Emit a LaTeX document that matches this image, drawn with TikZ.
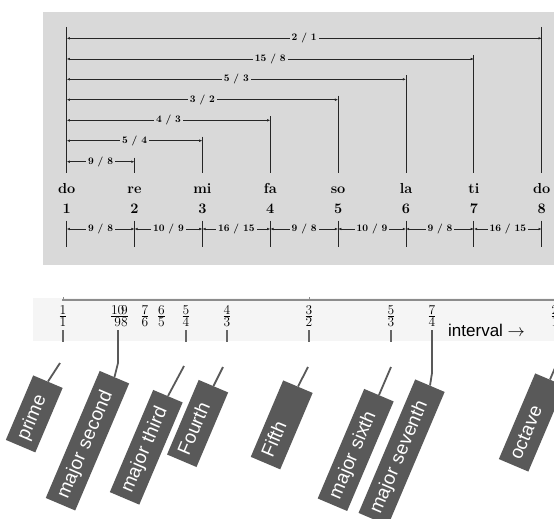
\documentclass[tikz,border=0pt]{standalone}
\usepackage{fontspec}
\newfontfamily\labfont{Liberation Sans}
\usetikzlibrary{arrows.meta}

\begin{document}
\begin{tikzpicture}[x=1pt,y=-1pt,
  panel/.style={fill=black!15,draw=none},
  post/.style={draw=black!85,line width=0.9pt},
  span/.style={draw=black!85,line width=0.6pt,
    {Latex[length=3.2pt,width=2.6pt]}-{Latex[length=3.2pt,width=2.6pt]}},
  spanlab/.style={fill=black!15,inner xsep=2pt,inner ysep=1pt,
    font=\bfseries\fontsize{10}{11}\selectfont},
  note/.style={anchor=base,inner sep=0pt,font=\bfseries\fontsize{14.5}{16}\selectfont},
  ratio/.style={align=center,inner sep=0pt,font=\fontsize{13.5}{11.5}\selectfont},
  tick/.style={draw=black!60,line width=2.6pt},
  stem/.style={draw=black!65,line width=1.8pt},
  tag/.style={rotate=67,anchor=east,fill=black!65,text=white,
    font=\labfont\fontsize{19}{20}\selectfont,
    minimum height=32pt,inner xsep=7pt,inner ysep=0pt,
    text height=13.6pt,text depth=4pt,align=left,text width=#1}
]
\useasboundingbox (0,0) rectangle (554,519);
\clip (0,0) rectangle (554,519);
\fill[white] (0,0) rectangle (554,519);

% ---------- scale of the major scale ----------
\fill[panel] (43,12) rectangle (554,265);

\foreach \n/\x/\nm in {1/66.7/do,2/134.5/re,3/202.4/mi,4/270.3/fa,
                       5/338.1/so,6/406.0/la,7/473.9/ti,8/541.7/do}{
  \node[note] (nm\n) at (\x,193.3) {\nm};
  \node[note] (num\n) at (\x,213.3) {\n};
  \coordinate (lo\n) at (\x,173);
  \coordinate (ta\n) at (\x,220.7);
  \coordinate (tb\n) at (\x,247.3);
  \coordinate (st\n) at (\x,229);
}

% posts above the note names
\coordinate (top1) at (66.7,27);
\coordinate (top2) at (134.5,157.7);
\coordinate (top3) at (202.4,136.7);
\coordinate (top4) at (270.3,116.3);
\coordinate (top5) at (338.1,95.7);
\coordinate (top6) at (406.0,75.3);
\coordinate (top7) at (473.9,55);
\coordinate (top8) at (541.7,27);
\foreach \n in {1,...,8}{\draw[post] (top\n) -- (lo\n);}

% intervals measured from the tonic
\coordinate (o2) at (66.7,161.7);  \coordinate (p2) at (134.5,161.7);
\coordinate (o3) at (66.7,140.7);  \coordinate (p3) at (202.4,140.7);
\coordinate (o4) at (66.7,120.3);  \coordinate (p4) at (270.3,120.3);
\coordinate (o5) at (66.7,99.7);   \coordinate (p5) at (338.1,99.7);
\coordinate (o6) at (66.7,79.3);   \coordinate (p6) at (406.0,79.3);
\coordinate (o7) at (66.7,59);     \coordinate (p7) at (473.9,59);
\coordinate (o8) at (66.7,38.3);   \coordinate (p8) at (541.7,38.3);
\draw[span] (o2) -- node[spanlab] (l2) {9 / 8} (p2);
\draw[span] (o3) -- node[spanlab] (l3) {5 / 4} (p3);
\draw[span] (o4) -- node[spanlab] (l4) {4 / 3} (p4);
\draw[span] (o5) -- node[spanlab] (l5) {3 / 2} (p5);
\draw[span] (o6) -- node[spanlab] (l6) {5 / 3} (p6);
\draw[span] (o7) -- node[spanlab] (l7) {15 / 8} (p7);
\draw[span] (o8) -- node[spanlab] (l8) {2 / 1} (p8);

% steps between neighbouring notes
\foreach \n in {1,...,8}{\draw[post] (ta\n) -- (tb\n);}
\draw[span] (st1) -- node[spanlab] (s1) {9 / 8} (st2);
\draw[span] (st2) -- node[spanlab] (s2) {10 / 9} (st3);
\draw[span] (st3) -- node[spanlab] (s3) {16 / 15} (st4);
\draw[span] (st4) -- node[spanlab] (s4) {9 / 8} (st5);
\draw[span] (st5) -- node[spanlab] (s5) {10 / 9} (st6);
\draw[span] (st6) -- node[spanlab] (s6) {9 / 8} (st7);
\draw[span] (st7) -- node[spanlab] (s7) {16 / 15} (st8);

% ---------- interval axis ----------
\fill[black!4] (33,298) rectangle (554,341);
\coordinate (ax0) at (62,300);
\coordinate (ax1) at (554,300);
\draw[draw=black!45,line width=1.2pt] (ax0) -- (ax1);
\draw[draw=black!45,line width=0.8pt] (63,300) -- (63,296.5);
\draw[draw=black!45,line width=0.8pt] (309,300) -- (309,296.5);

\node[ratio] (r11)  at (63,316)    {\underline{1}\\1};
\node[ratio] (r109) at (117.7,316) {\underline{10}\\9};
\node[ratio] (r98)  at (124.5,316) {\underline{9}\\8};
\node[ratio] (r76)  at (145,316)   {\underline{7}\\6};
\node[ratio] (r65)  at (161.4,316) {\underline{6}\\5};
\node[ratio] (r54)  at (186,316)   {\underline{5}\\4};
\node[ratio] (r43)  at (227,316)   {\underline{4}\\3};
\node[ratio] (r32)  at (309,316)   {\underline{3}\\2};
\node[ratio] (r53)  at (391,316)   {\underline{5}\\3};
\node[ratio] (r74)  at (432,316)   {\underline{7}\\4};
\node[ratio] (r21)  at (555,316)   {\underline{2}\\1};

\node[anchor=west,inner sep=0pt,font=\labfont\fontsize{17}{18}\selectfont] (iv)
  at (448,330) {interval $\rightarrow$};

% short marks under the ratios
\foreach \x in {63,186,227,309,391,555}{\draw[tick] (\x,330) -- (\x,342);}
\draw[tick] (118,330) -- (118,342);
\draw[tick] (432,330) -- (432,342);

% named tags
\node[tag=56pt]  (bprime)   at (48,381.5)  {prime};
\node[tag=124pt] (bsecond)  at (114.5,377) {major second};
\node[tag=97pt]  (bthird)   at (168,396)   {major third};
\node[tag=67pt]  (bfourth)  at (213.5,386) {Fourth};
\node[tag=69pt]  (bfifth)   at (298,386.5) {Fifth};
\node[tag=105pt] (bsixth)   at (379,395)   {major sixth};
\node[tag=131pt] (bseventh) at (430,385.5) {major seventh};
\node[tag=79pt]  (boctave)  at (550,379.5) {octave};

\coordinate (kprime)  at (60,363);
\coordinate (kthird)  at (184,366);
\coordinate (kfourth) at (223,367);
\coordinate (kfifth)  at (308,367);
\coordinate (ksixth)  at (391,367);
\coordinate (koctave) at (558,361);
\coordinate (ksec0) at (118,330);   \coordinate (ksec1) at (118,363);
\coordinate (ksev0) at (432,330);   \coordinate (ksev1) at (432,373);

\draw[stem] (bprime.east)  -- (kprime);
\draw[stem] (bthird.east)  -- (kthird);
\draw[stem] (bfourth.east) -- (kfourth);
\draw[stem] (bfifth.east)  -- (kfifth);
\draw[stem] (bsixth.east)  -- (ksixth);
\draw[stem] (boctave.east) -- (koctave);
\draw[stem] (ksec0) -- (ksec1) -- (bsecond.east);
\draw[stem] (ksev0) -- (ksev1) -- (bseventh.east);
\end{tikzpicture}
\end{document}
